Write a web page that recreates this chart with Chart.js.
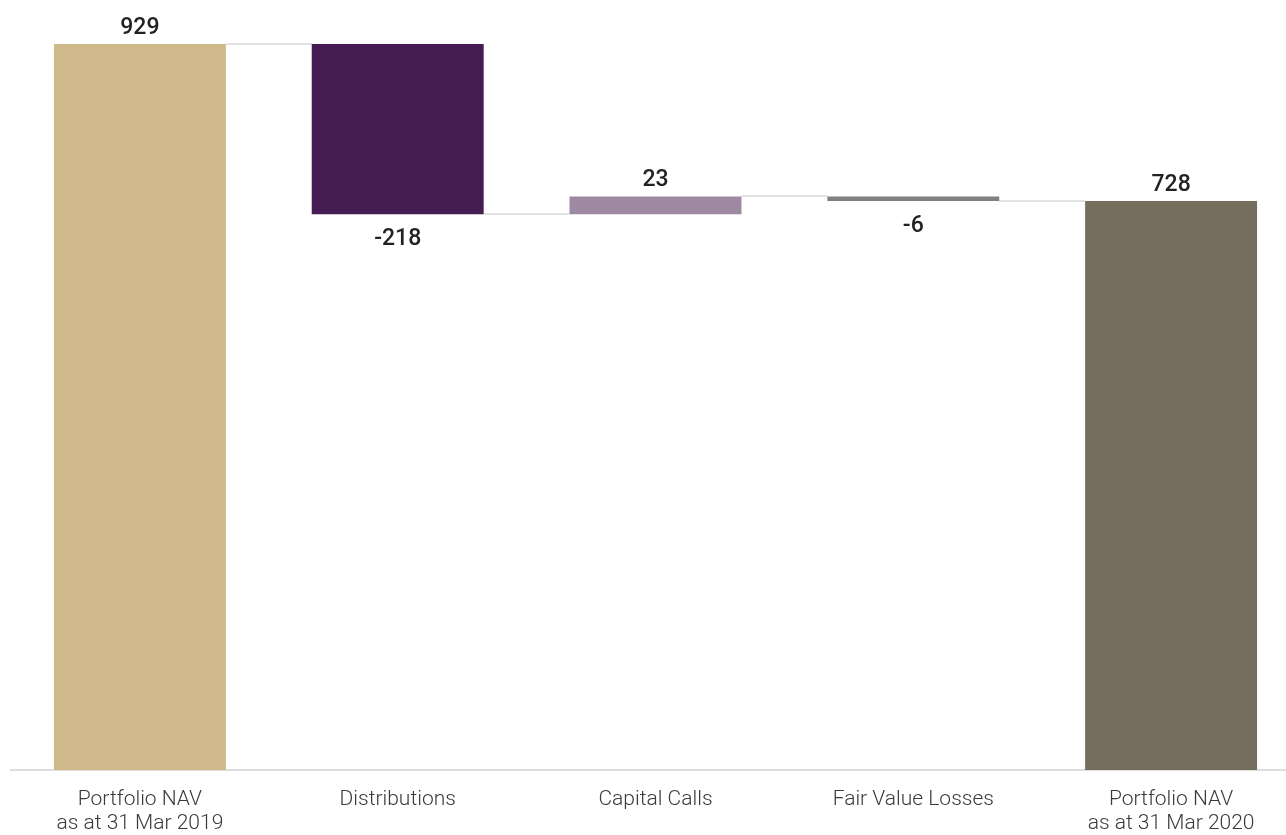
<!DOCTYPE html>
<html>
<head>
<meta charset="utf-8">
<script src="https://cdn.jsdelivr.net/npm/chart.js@4"></script>
<style>
  html, body { margin: 0; padding: 0; background: #fff; overflow: hidden; }
  #wrap { position: absolute; left: 0; top: 0; width: 1300px; height: 854px; }
</style>
</head>
<body>
<div id="wrap"><canvas id="nav-chart"></canvas></div>
<script>
// NAV bridge, year to 31 Mar 2020 (£m)
const categories = [
  ["Portfolio NAV", "as at 31 Mar 2019"],
  "Distributions",
  "Capital Calls",
  "Fair Value Losses",
  ["Portfolio NAV", "as at 31 Mar 2020"]
];
const movements = [929, -218, 23, -6, 728];
const isTotal = [true, false, false, false, true];
const barColours = ["#cfb98b", "#441c51", "#9e89a3", "#808080", "#756d5d"];

// turn the movements into floating [from, to] ranges
var ranges = [];
var levels = [];
var running = 0;
movements.forEach(function (v, i) {
  if (isTotal[i]) {
    ranges.push([0, v]);
    running = v;
  } else {
    ranges.push([running, running + v]);
    running += v;
  }
  levels.push(running);
});

// thin grey lines joining each bar to the next one
const connectors = {
  id: 'connectors',
  beforeDatasetsDraw(chart) {
    const ctx = chart.ctx;
    const bars = chart.getDatasetMeta(0).data;
    const y = chart.scales.y;
    ctx.save();
    ctx.strokeStyle = '#e2e2e2';
    ctx.lineWidth = 2;
    for (let i = 0; i < bars.length - 1; i++) {
      const py = Math.round(y.getPixelForValue(levels[i]));
      ctx.beginPath();
      ctx.moveTo(bars[i].x + bars[i].width / 2, py);
      ctx.lineTo(bars[i + 1].x - bars[i + 1].width / 2, py);
      ctx.stroke();
    }
    ctx.restore();
  }
};

// value labels above rises, below falls
const valueLabels = {
  id: 'valueLabels',
  afterDatasetsDraw(chart) {
    const ctx = chart.ctx;
    const bars = chart.getDatasetMeta(0).data;
    const y = chart.scales.y;
    ctx.save();
    ctx.font = '500 23px Roboto';
    ctx.fillStyle = '#222';
    ctx.textAlign = 'center';
    ctx.textBaseline = 'alphabetic';
    bars.forEach(function (bar, i) {
      const r = ranges[i];
      if (movements[i] >= 0) {
        ctx.fillText(String(movements[i]), bar.x, y.getPixelForValue(Math.max(r[0], r[1])) - 10);
      } else {
        ctx.fillText(String(movements[i]), bar.x, y.getPixelForValue(Math.min(r[0], r[1])) + 31);
      }
    });
    ctx.restore();
  }
};

new Chart(document.getElementById('nav-chart'), {
  type: 'bar',
  data: {
    labels: categories,
    datasets: [{
      data: ranges,
      backgroundColor: barColours,
      borderWidth: 0,
      barPercentage: 0.667,
      categoryPercentage: 1
    }]
  },
  options: {
    responsive: true,
    maintainAspectRatio: false,
    animation: false,
    layout: { padding: { top: 44, left: 11, right: 0, bottom: 0 } },
    plugins: {
      legend: { display: false },
      tooltip: { enabled: false }
    },
    scales: {
      x: {
        grid: { display: false, drawTicks: false },
        border: { display: true, color: '#dddddd', width: 2 },
        ticks: {
          padding: 18,
          color: '#3a3a3a',
          font: { family: 'Roboto', size: 21, weight: '300', lineHeight: '24px' }
        }
      },
      y: {
        display: false,
        min: 0,
        max: 929
      }
    }
  },
  plugins: [connectors, valueLabels]
});
</script>
</body>
</html>
